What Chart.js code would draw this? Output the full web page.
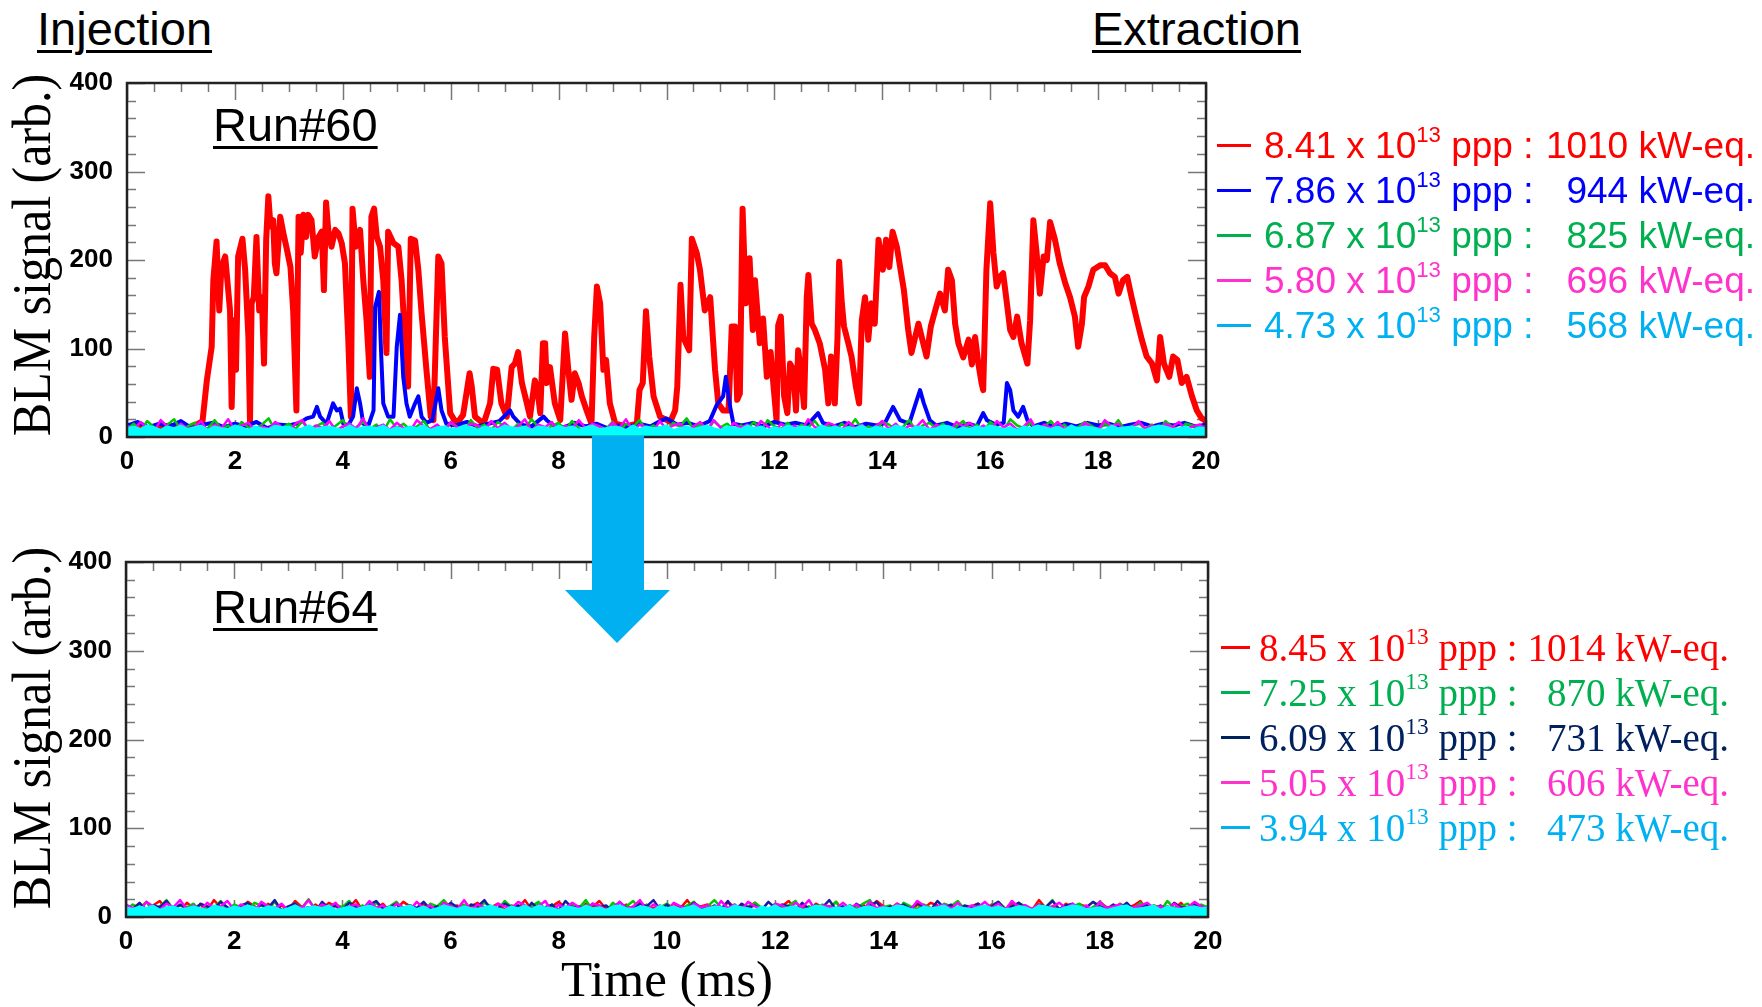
<!DOCTYPE html>
<html>
<head>
<meta charset="utf-8">
<title>BLM signal Run#60 / Run#64</title>
<script src="https://cdn.jsdelivr.net/npm/chart.js@4.4.1/dist/chart.umd.min.js"></script>
<style>
  html, body { margin: 0; padding: 0; background: #fff; }
  body { width: 1762px; height: 1007px; position: relative; overflow: hidden; font-family: 'Liberation Sans', Arial, sans-serif; }
  canvas { position: absolute; left: 0; }
  .lbl { position: absolute; font-size: 47px; line-height: 50px; white-space: nowrap; color: #000;
         text-decoration: underline; text-decoration-thickness: 3px; text-underline-offset: 5px; }
  .legend { position: absolute; }
  .row { position: relative; height: 45px; line-height: 45px; white-space: nowrap; }
  .row .dash { position: absolute; left: 0; top: 21px; height: 3px; }
  .row .lt { position: absolute; }
  .row .rt { position: absolute; right: 0; }
  .row sup { font-size: 0.6em; line-height: 0; vertical-align: 0; position: relative; top: -0.72em; }
  #arrow { position: absolute; left: 0; top: 0; pointer-events: none; }
</style>
</head>
<body>
<canvas id="run60" width="1230" height="420" style="top:60px"></canvas>
<canvas id="run64" width="1230" height="467" style="top:540px"></canvas>

<div class="lbl" style="left:37px; top:4px;">Injection</div>
<div class="lbl" style="left:1092px; top:4px;">Extraction</div>
<div class="lbl" style="left:213px; top:100px;">Run#60</div>
<div class="lbl" style="left:213px; top:582px;">Run#64</div>

<div id="legend60" class="legend" style="left:1217px; top:123px; width:538px; font-family:'Liberation Sans', Arial, sans-serif; font-size:37px;"></div>
<div id="legend64" class="legend" style="left:1221px; top:625px; width:508px; font-family:'Liberation Serif', 'Times New Roman', serif; font-size:39px;"></div>

<svg id="arrow" width="1762" height="1007">
  <polygon points="592,436 644,436 644,590 670,590 617,643 565,590 592,590" fill="#00B0F0"/>
</svg>

<script>
// ---- axes ----
const X_MIN = 0, X_MAX = 20, X_MAJOR = 2, X_MINOR = 0.5;
const Y_MIN = 0, Y_MAX = 400, Y_MAJOR = 100, Y_MINOR = 20;
const Y_TITLE = 'BLM signal (arb.)';
const X_TITLE = 'Time (ms)';
const NOISE_STEP = 0.125; // ms between baseline samples

// ---- legend entries (intensity x 10^13 ppp, kW-eq.) ----
const LEGEND60_PPP = ['8.41', '7.86', '6.87', '5.80', '4.73'];
const LEGEND60_KW  = ['1010', '944', '825', '696', '568'];
const LEGEND60_COL = ['#FF0000', '#0000FF', '#00B050', '#FF33CC', '#00B0F0'];
const LEGEND64_PPP = ['8.45', '7.25', '6.09', '5.05', '3.94'];
const LEGEND64_KW  = ['1014', '870', '731', '606', '473'];
const LEGEND64_COL = ['#FF0000', '#00B050', '#002060', '#FF33CC', '#00B0F0'];

// ---- Run#60, [time ms, signal] ----
const RED60 = [
  [0,9],[0.2,12],[0.4,8],[0.6,11],[0.8,13],[1.0,9],[1.2,12],[1.32,15],[1.40,18],
  [1.48,64],[1.57,102],[1.60,177],[1.66,221],[1.71,143],[1.75,192],[1.82,204],[1.91,143],[1.94,34],[1.98,132],
  [2.02,76],[2.06,204],[2.14,224],[2.19,189],[2.25,113],[2.28,17],[2.31,151],[2.35,158],[2.40,226],[2.45,143],
  [2.50,158],[2.54,83],[2.58,223],[2.62,272],[2.66,238],[2.71,245],[2.74,196],[2.77,185],[2.84,249],[2.90,230],
  [2.96,213],[3.03,192],[3.08,143],[3.14,30],[3.18,249],[3.22,208],[3.27,251],[3.32,226],[3.36,251],[3.42,245],
  [3.48,204],[3.55,226],[3.61,232],[3.65,166],[3.69,265],[3.73,234],[3.79,215],[3.86,234],[3.92,230],[3.98,219],
  [4.04,196],[4.10,113],[4.15,23],[4.18,258],[4.24,215],[4.32,234],[4.38,177],[4.44,132],[4.50,68],[4.53,249],
  [4.58,258],[4.63,226],[4.69,215],[4.75,177],[4.81,95],[4.84,232],[4.94,219],[5.03,215],[5.09,177],[5.15,113],
  [5.21,57],[5.26,224],[5.34,222],[5.40,189],[5.46,140],[5.55,76],[5.63,23],[5.68,19],[5.77,204],[5.83,196],
  [5.89,113],[5.99,27],[6.11,15],[6.23,25],[6.35,72],[6.39,57],[6.45,23],[6.61,15],[6.73,38],[6.79,77],
  [6.86,76],[6.94,38],[7.04,23],[7.13,79],[7.19,83],[7.25,96],[7.32,61],[7.38,46],[7.47,23],[7.56,64],
  [7.61,53],[7.66,27],[7.71,106],[7.75,106],[7.78,61],[7.84,79],[7.93,38],[8.03,19],[8.12,117],[8.18,76],
  [8.24,42],[8.30,72],[8.37,61],[8.43,46],[8.52,30],[8.61,15],[8.66,113],[8.71,170],[8.77,151],[8.83,76],
  [8.88,87],[8.95,38],[9.05,15],[9.26,12],[9.45,15],[9.50,53],[9.56,61],[9.62,142],[9.68,91],[9.76,46],
  [9.88,23],[10.07,17],[10.16,30],[10.20,57],[10.26,172],[10.31,113],[10.36,106],[10.42,98],[10.47,224],[10.56,208],
  [10.62,189],[10.71,143],[10.81,158],[10.90,76],[10.96,38],[11.05,30],[11.15,30],[11.21,125],[11.27,125],[11.31,42],
  [11.36,49],[11.41,258],[11.47,151],[11.54,202],[11.60,121],[11.64,177],[11.73,106],[11.79,134],[11.86,68],[11.93,96],
  [11.99,53],[12.04,19],[12.07,126],[12.12,136],[12.18,46],[12.24,27],[12.29,83],[12.35,76],[12.40,30],[12.44,98],
  [12.49,76],[12.55,34],[12.60,158],[12.63,183],[12.69,128],[12.75,121],[12.84,106],[12.94,76],[13.00,38],[13.05,91],
  [13.09,72],[13.12,38],[13.17,113],[13.20,198],[13.25,151],[13.29,125],[13.37,106],[13.43,91],[13.51,57],[13.57,38],
  [13.62,132],[13.68,158],[13.74,110],[13.80,151],[13.86,128],[13.93,223],[14.01,189],[14.07,223],[14.13,192],[14.19,232],
  [14.27,215],[14.33,192],[14.40,166],[14.48,121],[14.54,95],[14.61,113],[14.67,128],[14.73,113],[14.82,91],[14.90,125],
  [14.98,143],[15.07,162],[15.16,143],[15.22,189],[15.29,177],[15.35,128],[15.41,106],[15.50,90],[15.60,110],[15.66,82],
  [15.72,113],[15.78,83],[15.84,61],[15.87,53],[15.93,189],[16.00,264],[16.06,208],[16.12,170],[16.18,181],[16.24,185],
  [16.31,151],[16.37,121],[16.43,113],[16.50,136],[16.58,106],[16.69,83],[16.74,132],[16.80,245],[16.86,208],[16.92,162],
  [16.99,204],[17.05,200],[17.11,243],[17.20,223],[17.29,196],[17.39,174],[17.48,158],[17.57,136],[17.63,102],[17.70,128],
  [17.74,158],[17.82,170],[17.91,189],[18.04,194],[18.13,194],[18.22,185],[18.31,181],[18.38,162],[18.46,177],[18.54,181],
  [18.62,158],[18.72,132],[18.81,110],[18.90,91],[19.00,83],[19.09,64],[19.15,113],[19.22,83],[19.32,68],[19.39,91],
  [19.47,87],[19.55,61],[19.64,68],[19.74,46],[19.83,30],[19.92,21],[19.98,19],[20.0,15]
];
const BLUE60 = [
  [0,13],[0.2,17],[0.4,11],[0.6,15],[0.8,12],[1.0,18],[1.2,10],[1.4,14],[1.6,16],[1.8,11],[2.0,15],[2.2,12],
  [2.4,17],[2.6,10],[2.8,14],[3.0,13],[3.2,16],[3.33,21],[3.45,23],[3.52,34],[3.58,23],[3.70,15],[3.82,38],
  [3.89,30],[3.95,32],[4.01,15],[4.1,13],[4.19,23],[4.26,55],[4.32,38],[4.38,15],[4.48,14],[4.57,30],
  [4.60,147],[4.67,164],[4.71,95],[4.75,38],[4.84,23],[4.94,23],[5.00,102],[5.06,138],[5.12,68],[5.18,38],
  [5.24,23],[5.34,38],[5.40,46],[5.46,23],[5.55,16],[5.66,19],[5.77,55],[5.83,30],[5.92,15],[6.1,13],
  [6.3,17],[6.5,12],[6.7,15],[6.9,18],[7.10,30],[7.16,23],[7.3,14],[7.5,12],[7.72,23],[7.78,19],[7.9,13],
  [8.1,11],[8.3,16],[8.5,12],[8.7,15],[8.9,10],[9.1,13],[9.3,11],[9.5,15],[9.7,12],[9.85,17],[10.0,21],
  [10.2,14],[10.4,16],[10.6,12],[10.8,18],[10.93,36],[11.05,46],[11.10,68],[11.18,34],[11.24,15],[11.4,13],
  [11.6,16],[11.8,12],[12.0,17],[12.2,14],[12.4,16],[12.6,13],[12.81,27],[12.9,16],[13.1,12],[13.3,16],
  [13.5,11],[13.7,15],[13.9,13],[14.05,16],[14.20,34],[14.33,19],[14.5,15],[14.64,42],[14.70,53],[14.77,38],
  [14.88,19],[15.0,13],[15.2,16],[15.4,11],[15.6,15],[15.75,12],[15.87,27],[15.94,19],[16.1,14],[16.25,16],
  [16.31,61],[16.37,53],[16.43,30],[16.52,23],[16.61,34],[16.69,19],[16.8,12],[17.0,16],[17.2,11],[17.4,15],
  [17.6,12],[17.8,16],[18.0,13],[18.2,15],[18.4,11],[18.6,14],[18.8,16],[19.0,12],[19.2,15],[19.4,13],
  [19.6,16],[19.8,12],[20.0,14]
];
// baseline-only series, one sample every NOISE_STEP ms
const GREEN60 = [
  9,15,7,18,11,6,14,20,8,12, 16,7,10,19,9,13,6,17,11,8, 14,21,7,10,15,9,18,6,12,16, 8,13,19,7,11,17,9,14,6,20,
  10,15,8,12,18,7,13,9,16,11, 6,19,10,14,8,17,12,7,15,9, 20,11,6,13,16,8,18,10,7,14, 12,9,17,6,15,11,19,8,13,10,
  7,16,12,21,9,14,6,18,11,15, 8,13,10,17,7,19,12,9,16,6, 14,11,18,8,13,7,15,10,20,9, 12,6,17,14,8,11,19,7,13,16,
  10,15,7,12,18,9,14,6,17,11, 8,20,13,10,16,7,12,18,9,14, 6,11,17,13,8,15,10,19,7,12, 16,9,14,6,18,11,8,15,13,10,
  12
];
const MAGENTA60 = [
  13,8,17,10,6,19,12,7,15,9, 11,18,6,14,10,20,8,13,16,7, 12,9,17,11,6,15,19,8,13,10, 18,7,12,15,9,21,6,11,14,8,
  16,10,7,19,12,9,14,6,17,11, 8,15,13,7,18,10,16,9,12,20, 7,14,11,17,6,13,9,19,10,15, 12,8,16,10,20,7,14,11,6,18,
  9,13,15,7,12,17,8,19,11,6, 16,10,14,8,18,12,6,15,9,13, 7,20,11,9,16,13,8,17,10,14, 6,12,18,9,15,7,13,11,19,8,
  14,10,6,17,12,16,9,13,7,18, 11,15,8,12,20,6,14,10,17,9, 13,7,16,11,8,19,12,15,6,10, 18,9,13,7,15,11,17,8,12,14,
  10
];
const CYAN60 = [
  10,12,9,13,11,8,12,10,13,9, 11,13,8,12,10,9,13,11,8,12, 10,9,13,11,12,8,10,13,9,11, 12,10,8,13,9,11,12,10,13,8,
  11,9,12,10,13,8,11,12,9,10, 13,11,8,12,10,9,13,11,10,12, 8,12,11,9,13,10,12,8,11,13, 9,10,12,11,8,13,9,12,10,11,
  13,8,10,12,9,11,13,10,8,12, 11,9,13,10,12,8,11,9,13,10, 12,11,8,13,10,12,9,11,10,13, 8,12,10,9,13,11,8,12,11,9,
  10,13,12,8,11,9,12,10,13,11, 9,11,8,12,10,13,11,9,12,8, 13,10,12,11,9,8,13,10,11,12, 10,8,11,13,12,9,10,12,8,11,
  10
];

// ---- Run#64, all at baseline ----
const RED64 = [
  11,7,15,9,13,18,8,12,6,16, 10,14,7,19,11,8,13,9,17,12, 6,15,10,13,8,18,11,7,14,9, 16,12,8,11,19,7,13,10,15,6,
  9,17,12,8,14,10,6,18,11,13, 7,12,16,9,11,15,8,13,10,19, 8,14,6,12,17,10,13,7,15,11, 18,9,12,8,14,6,16,11,10,13,
  7,15,10,19,8,12,14,9,6,17, 11,13,8,16,10,7,14,12,18,9, 12,6,15,11,9,17,8,13,10,14, 7,18,12,9,15,11,6,14,10,16,
  13,8,11,17,7,12,15,9,14,10, 6,16,11,13,8,19,10,12,7,15, 9,14,12,6,17,11,8,15,10,13, 18,7,13,10,12,9,16,8,14,11,
  9
];
const GREEN64 = [
  8,14,10,17,7,12,19,9,13,11, 15,6,12,10,18,8,14,11,7,16, 13,9,17,7,11,15,10,20,8,12, 6,14,11,18,9,13,7,16,10,12,
  17,8,13,10,6,15,12,19,9,11, 14,7,10,16,12,8,18,11,13,6, 12,17,9,14,7,11,15,10,19,8, 13,6,16,10,12,18,9,14,7,11,
  15,10,8,13,17,6,12,19,11,9, 14,7,12,16,10,8,15,11,13,18, 6,12,9,14,11,17,7,13,10,15, 19,8,11,13,6,16,12,9,14,10,
  7,15,12,18,9,11,14,8,13,17, 10,6,16,12,9,14,11,19,7,13, 12,15,8,11,17,10,6,14,12,9, 16,11,13,7,18,10,12,15,8,14,
  11
];
const NAVY64 = [
  12,9,16,7,13,11,18,8,14,10, 6,15,12,9,17,11,7,13,16,8, 14,10,19,7,12,15,9,11,6,17, 10,13,8,16,12,7,14,18,9,11,
  15,6,13,10,17,9,12,8,16,11, 7,14,12,19,8,10,15,11,13,6, 16,9,11,14,7,18,10,12,8,15, 11,13,6,17,10,9,15,12,19,8,
  14,7,12,10,16,11,8,13,9,18, 6,15,11,13,8,17,10,14,12,7, 16,9,13,11,19,8,12,6,15,10, 13,17,7,12,10,14,9,16,11,8,
  18,10,14,6,13,11,15,9,12,17, 8,12,16,10,7,14,11,18,9,13, 15,6,11,17,12,9,14,10,16,8, 12,14,9,13,7,16,11,10,15,12,
  9
];
const MAGENTA64 = [
  14,10,6,17,12,8,15,11,19,9, 13,7,16,10,12,18,8,14,11,6, 17,12,9,15,7,13,10,19,8,14, 11,16,6,12,14,9,18,10,13,7,
  15,11,8,17,10,13,6,16,12,9, 19,8,14,11,7,15,12,10,17,13, 9,12,18,6,14,10,16,11,8,15, 13,7,11,17,9,12,19,8,14,10,
  6,16,12,9,15,11,13,7,18,10, 14,8,17,12,10,6,15,13,9,16, 11,19,7,13,12,9,16,10,14,8, 17,10,12,6,15,11,8,18,13,9,
  12,14,9,16,7,13,11,17,10,15, 8,18,11,13,9,14,6,12,16,10, 15,9,13,7,17,10,12,14,8,11, 13,16,10,12,8,15,9,11,17,12,
  10
];
const CYAN64 = [
  11,9,12,10,13,8,11,12,9,10, 12,10,8,13,11,9,12,10,13,11, 9,12,11,8,10,13,9,11,12,10, 13,8,10,12,9,11,13,10,8,12,
  10,11,13,9,12,8,10,13,11,9, 12,10,9,11,13,10,8,12,10,13, 9,13,11,10,8,12,11,9,13,10, 11,8,12,13,10,9,12,11,8,13,
  10,12,9,11,13,8,10,12,11,9, 13,11,10,8,12,10,13,9,11,12, 8,10,13,12,9,11,10,13,8,11, 12,9,11,10,13,12,9,8,12,10,
  11,13,8,12,10,9,11,13,10,12, 9,10,12,11,8,13,12,10,9,11, 13,12,9,10,11,8,10,12,13,9, 10,11,13,8,12,10,9,11,12,10,
  11
];

const pairs = arr => arr.map(([t, v]) => ({ x: t, y: v }));
const sampled = arr => arr.map((v, i) => ({ x: Math.round(i * NOISE_STEP * 1000) / 1000, y: v }));

function line(label, data, color, width, order, fill) {
  return {
    label, data, order,
    borderColor: color, borderWidth: width,
    backgroundColor: color, fill: fill ? 'origin' : false,
    pointRadius: 0, tension: 0, borderJoinStyle: 'round'
  };
}

// ROOT-like frame: inward ticks on all four sides, stretched y title
const rootFrame = {
  id: 'rootFrame',
  beforeDatasetsDraw(chart) {
    const { ctx, chartArea: a, scales: { x, y } } = chart;
    ctx.save();
    ctx.strokeStyle = '#777';
    ctx.lineWidth = 1.5;
    ctx.beginPath();
    for (let i = 0; i <= (X_MAX - X_MIN) / X_MINOR; i++) {
      const v = X_MIN + i * X_MINOR;
      const px = Math.round(x.getPixelForValue(v)) + 0.5;
      const len = (i % (X_MAJOR / X_MINOR) === 0) ? 17 : 9;
      ctx.moveTo(px, a.top); ctx.lineTo(px, a.top + len);
      ctx.moveTo(px, a.bottom); ctx.lineTo(px, a.bottom - len);
    }
    for (let i = 0; i <= (Y_MAX - Y_MIN) / Y_MINOR; i++) {
      const v = Y_MIN + i * Y_MINOR;
      const py = Math.round(y.getPixelForValue(v)) + 0.5;
      const len = (i % (Y_MAJOR / Y_MINOR) === 0) ? 18 : 9;
      ctx.moveTo(a.left, py); ctx.lineTo(a.left + len, py);
      ctx.moveTo(a.right, py); ctx.lineTo(a.right - len, py);
    }
    ctx.stroke();
    ctx.restore();
  },
  afterDatasetsDraw(chart) {
    const { ctx, chartArea: a } = chart;
    ctx.save();
    ctx.strokeStyle = '#222';
    ctx.lineWidth = 2.5;
    ctx.strokeRect(a.left, a.top, a.right - a.left, a.bottom - a.top);
    ctx.restore();
  },
  afterDraw(chart, args, opts) {
    const { ctx } = chart;
    ctx.save();
    ctx.translate(opts.x, opts.y);
    ctx.rotate(-Math.PI / 2);
    ctx.scale(1, opts.stretch);
    ctx.font = `${opts.size}px 'Liberation Serif', 'Times New Roman', serif`;
    ctx.fillStyle = '#000';
    ctx.textAlign = 'center';
    ctx.textBaseline = 'alphabetic';
    ctx.fillText(Y_TITLE, 0, 0);
    ctx.restore();
  }
};

const tickFont = { family: "'Liberation Sans', Arial, sans-serif", weight: 'bold', size: 26, lineHeight: 1.2 };

function makeOptions(cfg) {
  return {
    animation: false,
    responsive: false,
    events: [],
    layout: { padding: { top: cfg.top, right: cfg.right, left: 0, bottom: 0 } },
    plugins: {
      legend: { display: false },
      tooltip: { enabled: false },
      rootFrame: { x: 50, y: cfg.titleY, size: 50, stretch: 1.1 }
    },
    scales: {
      x: {
        type: 'linear', min: X_MIN, max: X_MAX,
        grid: { display: false, drawTicks: false },
        border: { display: false },
        ticks: { stepSize: X_MAJOR, font: tickFont, color: '#000', padding: 9, maxRotation: 0, autoSkip: false },
        title: cfg.xTitle
          ? { display: true, text: X_TITLE, color: '#000',
              font: { family: "'Liberation Serif', 'Times New Roman', serif", size: 51, lineHeight: 0.94 },
              padding: { top: 0, bottom: 0 } }
          : { display: false },
        afterFit: s => { s.height = cfg.xh; s.paddingLeft = 0; s.paddingRight = 0; }
      },
      y: {
        min: Y_MIN, max: Y_MAX,
        grid: { display: false, drawTicks: false },
        border: { display: false },
        ticks: { stepSize: Y_MAJOR, font: tickFont, color: '#000', padding: 14 },
        // fixed frame: do not let label overhang push the plot area
        afterFit: s => { s.width = cfg.yw; s.paddingTop = 0; s.paddingBottom = 0; }
      }
    }
  };
}

new Chart(document.getElementById('run60'), {
  type: 'line',
  data: {
    datasets: [
      line('4.73', sampled(CYAN60), '#00FFFF', 2, 0, true),
      line('5.80', sampled(MAGENTA60), '#FF00FF', 2.5, 1),
      line('6.87', sampled(GREEN60), '#00C800', 2.5, 2),
      line('7.86', pairs(BLUE60), '#0000FF', 4, 3),
      line('8.41', pairs(RED60), '#FF0000', 6, 4)
    ]
  },
  options: makeOptions({ top: 23, right: 24, xh: 43, yw: 127, titleY: 195, xTitle: false }),
  plugins: [rootFrame]
});

new Chart(document.getElementById('run64'), {
  type: 'line',
  data: {
    datasets: [
      line('3.94', sampled(CYAN64), '#00FFFF', 2, 0, true),
      line('5.05', sampled(MAGENTA64), '#FF00FF', 2.5, 1),
      line('6.09', sampled(NAVY64), '#1A1AA0', 2.5, 2),
      line('7.25', sampled(GREEN64), '#00C800', 2.5, 3),
      line('8.45', sampled(RED64), '#FF0000', 2.5, 4)
    ]
  },
  options: makeOptions({ top: 22, right: 22, xh: 90, yw: 126, titleY: 188, xTitle: true }),
  plugins: [rootFrame]
});

// legends
function fillLegend(id, ppp, kw, cols, dashW, textX) {
  document.getElementById(id).innerHTML = ppp.map((p, i) =>
    `<div class="row" style="color:${cols[i]}">` +
      `<span class="dash" style="width:${dashW}px;background:${cols[i]}"></span>` +
      `<span class="lt" style="left:${textX}px">${p} x 10<sup>13</sup> ppp :</span>` +
      `<span class="rt">${kw[i]} kW-eq.</span>` +
    `</div>`).join('');
}
fillLegend('legend60', LEGEND60_PPP, LEGEND60_KW, LEGEND60_COL, 34, 47);
fillLegend('legend64', LEGEND64_PPP, LEGEND64_KW, LEGEND64_COL, 29, 38);
</script>
</body>
</html>
